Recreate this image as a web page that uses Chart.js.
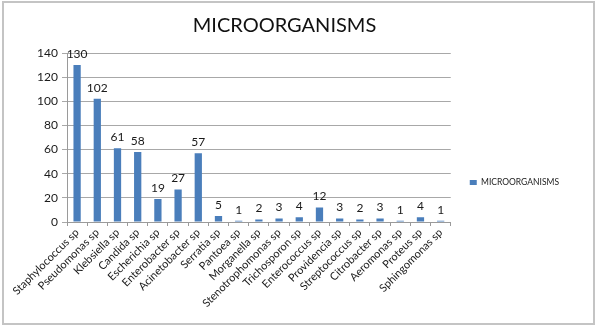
<!DOCTYPE html>
<html>
<head>
<meta charset="utf-8">
<script src="https://cdn.jsdelivr.net/npm/chart.js@4.4.1/dist/chart.umd.min.js"></script>
<style>
  html, body { margin: 0; padding: 0; background: #fff; }
  #wrap { width: 600px; height: 329px; position: relative; }
</style>
</head>
<body>
<div id="wrap"><canvas id="chart" width="600" height="329"></canvas></div>
<script>
// Isolated microorganisms and their counts
const categories = [
  'Staphylococcus sp', 'Pseudomonas sp', 'Klebsiella sp', 'Candida sp',
  'Escherichia sp', 'Enterobacter sp', 'Acinetobacter sp', 'Serratia sp',
  'Pantoea sp', 'Morganella sp', 'Stenotrophomonas sp', 'Trichosporon sp',
  'Enterococcus sp', 'Providencia sp', 'Streptococcus sp', 'Citrobacter sp',
  'Aeromonas sp', 'Proteus sp', 'Sphingomonas sp'
];
const counts = [130, 102, 61, 58, 19, 27, 57, 5, 1, 2, 3, 4, 12, 3, 2, 3, 1, 4, 1];
const seriesName = 'MICROORGANISMS';
const yTicks = [0, 20, 40, 60, 80, 100, 120, 140];

const FONT = 'Lato, "Open Sans", sans-serif';
const BAR_BLUE = '#4a7ebb';
const TEXT = '#1a1a1a';

// Value labels above each bar
const valueLabels = {
  id: 'valueLabels',
  afterDatasetsDraw(chart) {
    const ctx = chart.ctx;
    ctx.save();
    ctx.font = '12px ' + FONT;
    ctx.fillStyle = TEXT;
    ctx.textAlign = 'center';
    ctx.textBaseline = 'bottom';
    chart.data.datasets.forEach((ds, di) => {
      const meta = chart.getDatasetMeta(di);
      meta.data.forEach((bar, i) => {
        ctx.fillText(String(ds.data[i]), bar.x, bar.y - 5);
      });
    });
    ctx.restore();
  }
};

// Light frame around the whole chart
const frame = {
  id: 'frame',
  beforeDraw(chart) {
    const ctx = chart.ctx;
    ctx.save();
    ctx.strokeStyle = '#c4c4c4';
    ctx.lineWidth = 2;
    ctx.strokeRect(3, 2, 591, 322);
    ctx.restore();
  }
};

new Chart(document.getElementById('chart'), {
  type: 'bar',
  data: {
    labels: categories,
    datasets: [{
      label: seriesName,
      data: counts,
      backgroundColor: BAR_BLUE,
      borderWidth: 0,
      barPercentage: 0.36,
      categoryPercentage: 1.0
    }]
  },
  options: {
    responsive: false,
    animation: false,
    devicePixelRatio: 1,
    layout: { padding: { left: 0, right: 31, top: 0, bottom: 0 } },
    plugins: {
      title: {
        display: true,
        text: seriesName,
        color: '#111',
        font: { family: FONT, size: 20, weight: 'normal' },
        padding: { top: 14, bottom: 15 }
      },
      legend: {
        position: 'right',
        align: 'start',
        title: { display: true, text: ' ', font: { size: 1 }, padding: { top: 158, bottom: 0 } },
        labels: {
          boxWidth: 7,
          boxHeight: 5,
          padding: 19,
          color: TEXT,
          font: { family: FONT, size: 8.5 }
        }
      },
      tooltip: { enabled: false }
    },
    scales: {
      x: {
        offset: true,
        grid: { display: true, drawOnChartArea: false, drawTicks: true, tickLength: 4, color: '#9a9a9a', offset: true },
        border: { color: '#9a9a9a' },
        ticks: {
          autoSkip: false,
          minRotation: 45,
          maxRotation: 45,
          padding: 0,
          color: TEXT,
          font: { family: FONT, size: 11 }
        },
        afterFit(scale) { scale.height = 107; }
      },
      y: {
        min: yTicks[0],
        max: yTicks[yTicks.length - 1],
        afterBuildTicks(scale) { scale.ticks = yTicks.map(v => ({ value: v })); },
        grid: { color: '#a8a8a8', tickLength: 5 },
        border: { color: '#9a9a9a' },
        ticks: { padding: 4, color: TEXT, font: { family: FONT, size: 12 } },
        afterFit(scale) { scale.width = 67; }
      }
    }
  },
  plugins: [frame, valueLabels]
});
</script>
</body>
</html>
